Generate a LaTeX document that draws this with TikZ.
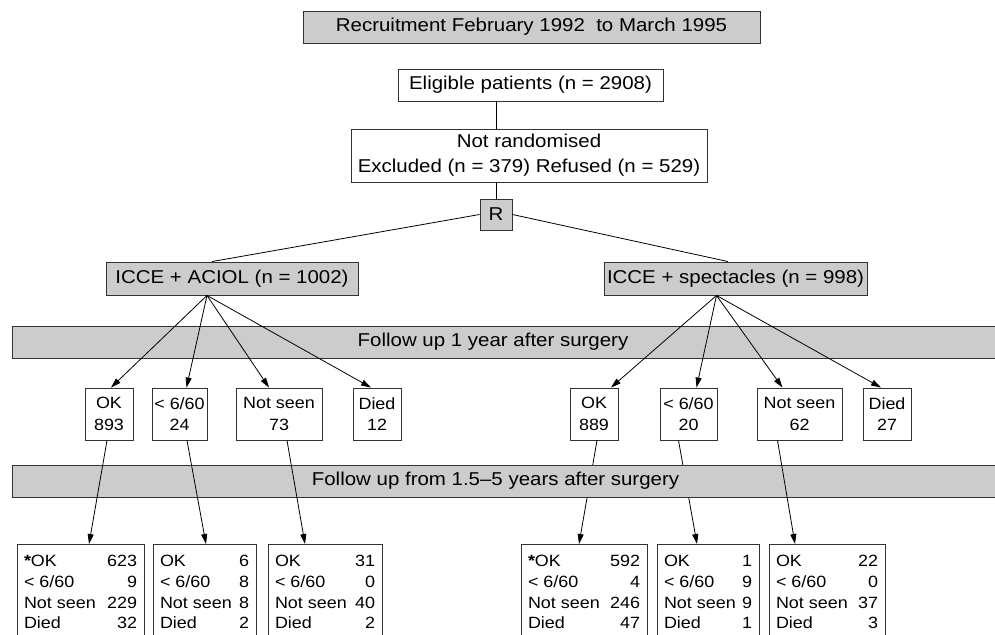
\documentclass[tikz,border=0pt]{standalone}
\usepackage{fontspec}
\setmainfont{Liberation Sans}[FakeStretch=1.1]
\usetikzlibrary{arrows.meta,positioning,calc}
\definecolor{boxgray}{gray}{0.8}
\newcommand{\tallytab}[6]{%
  \begin{tabular*}{#1}{@{}l@{\extracolsep{\fill}}r@{}}
    #2 & #3\\
    < 6/60 & #4\\
    Not seen & #5\\
    Died & #6
  \end{tabular*}}

\begin{document}
\begin{tikzpicture}[
    x=1pt, y=-1pt,
    box/.style={rectangle, draw=black!80, line width=0.9pt, fill=white, inner sep=0pt, align=center},
    gbox/.style={box, fill=boxgray},
    big/.style={font=\fontsize{18.6}{25}\selectfont},
    small/.style={font=\fontsize{16.3}{21.5}\selectfont},
    band/.style={gbox, big, minimum width=988pt, minimum height=32pt},
    count/.style={box, small, minimum height=52pt},
    tally/.style={box, font=\fontsize{16.3}{20.6}\selectfont, anchor=north, inner xsep=7pt, inner ysep=8pt},
    arrow/.style={-{Triangle[length=10pt,width=6pt]}, line width=0.8pt},
    link/.style={line width=0.8pt}
]
\useasboundingbox (0,0) rectangle (995,634);
\clip (0,0) rectangle (995,634);

% Recruitment and randomisation
\node[gbox, big, minimum width=457pt, minimum height=32pt] (recruit) at (531.5,27) {Recruitment February 1992~\ to March 1995};
\node[box, big, minimum width=265pt, minimum height=32pt] (elig) at (530.5,85) {Eligible patients (n = 2908)};
\node[box, big, minimum width=356pt, minimum height=53pt] (notrand) at (529,155.5) {Not randomised\\Excluded (n = 379) Refused (n = 529)};
\node[gbox, big, minimum width=32pt, minimum height=31pt] (R) at (496,214.5) {R};

\draw[link] (R.north |- elig.south) -- (R.north |- notrand.north);
\draw[link] (R.north |- notrand.south) -- (R.north);

% Two arms
\node[gbox, big, minimum width=252pt, minimum height=33pt] (iA) at (232,278.5) {ICCE + ACIOL (n = 1002)};
\node[gbox, big, minimum width=263pt, minimum height=33pt] (iS) at (735.5,278.5) {ICCE + spectacles (n = 998)};

\draw[link] (R.west) -- ([xshift=-20pt]iA.north);
\draw[link] (R.east) -- ([xshift=-7.5pt]iS.north);

% Follow up at 1 year
\node[band] (fu1) at (506,342) {\hspace*{-26pt}Follow up 1 year after surgery};

\node[count, minimum width=48pt] (okA) at (109,414) {OK\\893};
\node[count, minimum width=55pt] (lowA) at (179.5,414) {< 6/60\\24};
\node[count, minimum width=86pt] (nsA) at (279,414) {Not seen\\73};
\node[count, minimum width=48pt] (diedA) at (377,414) {Died\\12};

\node[count, minimum width=48pt] (okS) at (594,414) {OK\\889};
\node[count, minimum width=57pt] (lowS) at (688.5,414) {< 6/60\\20};
\node[count, minimum width=85pt] (nsS) at (799.5,414) {Not seen\\62};
\node[count, minimum width=48pt] (diedS) at (887,414) {Died\\27};

\draw[arrow] ([xshift=-25pt]iA.south) -- ([xshift=2pt]okA.north);
\draw[arrow] ([xshift=-25pt]iA.south) -- ([xshift=7pt]lowA.north);
\draw[arrow] ([xshift=-25pt]iA.south) -- ([xshift=-10pt]nsA.north);
\draw[arrow] ([xshift=-25pt]iA.south) -- ([xshift=-6pt]diedA.north);

\draw[arrow] ([xshift=-19pt]iS.south) -- ([xshift=17pt]okS.north);
\draw[arrow] ([xshift=-19pt]iS.south) -- ([xshift=8pt]lowS.north);
\draw[arrow] ([xshift=-19pt]iS.south) -- ([xshift=-17pt]nsS.north);
\draw[arrow] ([xshift=-19pt]iS.south) -- ([xshift=-6pt]diedS.north);

% Follow up from 1.5 to 5 years
\node[tally] (okA2) at (80.5,544) {\tallytab{113pt}{\textbf{*}OK}{623}{9}{229}{32}};
\node[tally] (lowA2) at (204.5,544) {\tallytab{89pt}{OK}{6}{8}{8}{2}};
\node[tally] (nsA2) at (325,544) {\tallytab{100pt}{OK}{31}{0}{40}{2}};

\node[tally] (okS2) at (584,544) {\tallytab{112pt}{\textbf{*}OK}{592}{4}{246}{47}};
\node[tally] (lowS2) at (708,544) {\tallytab{88pt}{OK}{1}{9}{9}{1}};
\node[tally] (nsS2) at (827,544) {\tallytab{102pt}{OK}{22}{0}{37}{3}};

\draw[arrow] ([xshift=3pt]okS.south) -- ([xshift=-5pt]okS2.north);
\draw[arrow] ([xshift=-10pt]lowS.south) -- ([xshift=-11pt]lowS2.north);

\node[band] (fu2) at (506,481) {\hspace*{-21pt}Follow up from 1.5--5 years after surgery};

\draw[arrow] ([xshift=-2pt]okA.south) -- ([xshift=8.5pt]okA2.north);
\draw[arrow] ([xshift=7.5pt]lowA.south) -- ([xshift=1.5pt]lowA2.north);
\draw[arrow] ([xshift=8pt]nsA.south) -- ([xshift=-20pt]nsA2.north);
\draw[arrow] ([xshift=-22pt]nsS.south) -- ([xshift=-32pt]nsS2.north);

\end{tikzpicture}
\end{document}
